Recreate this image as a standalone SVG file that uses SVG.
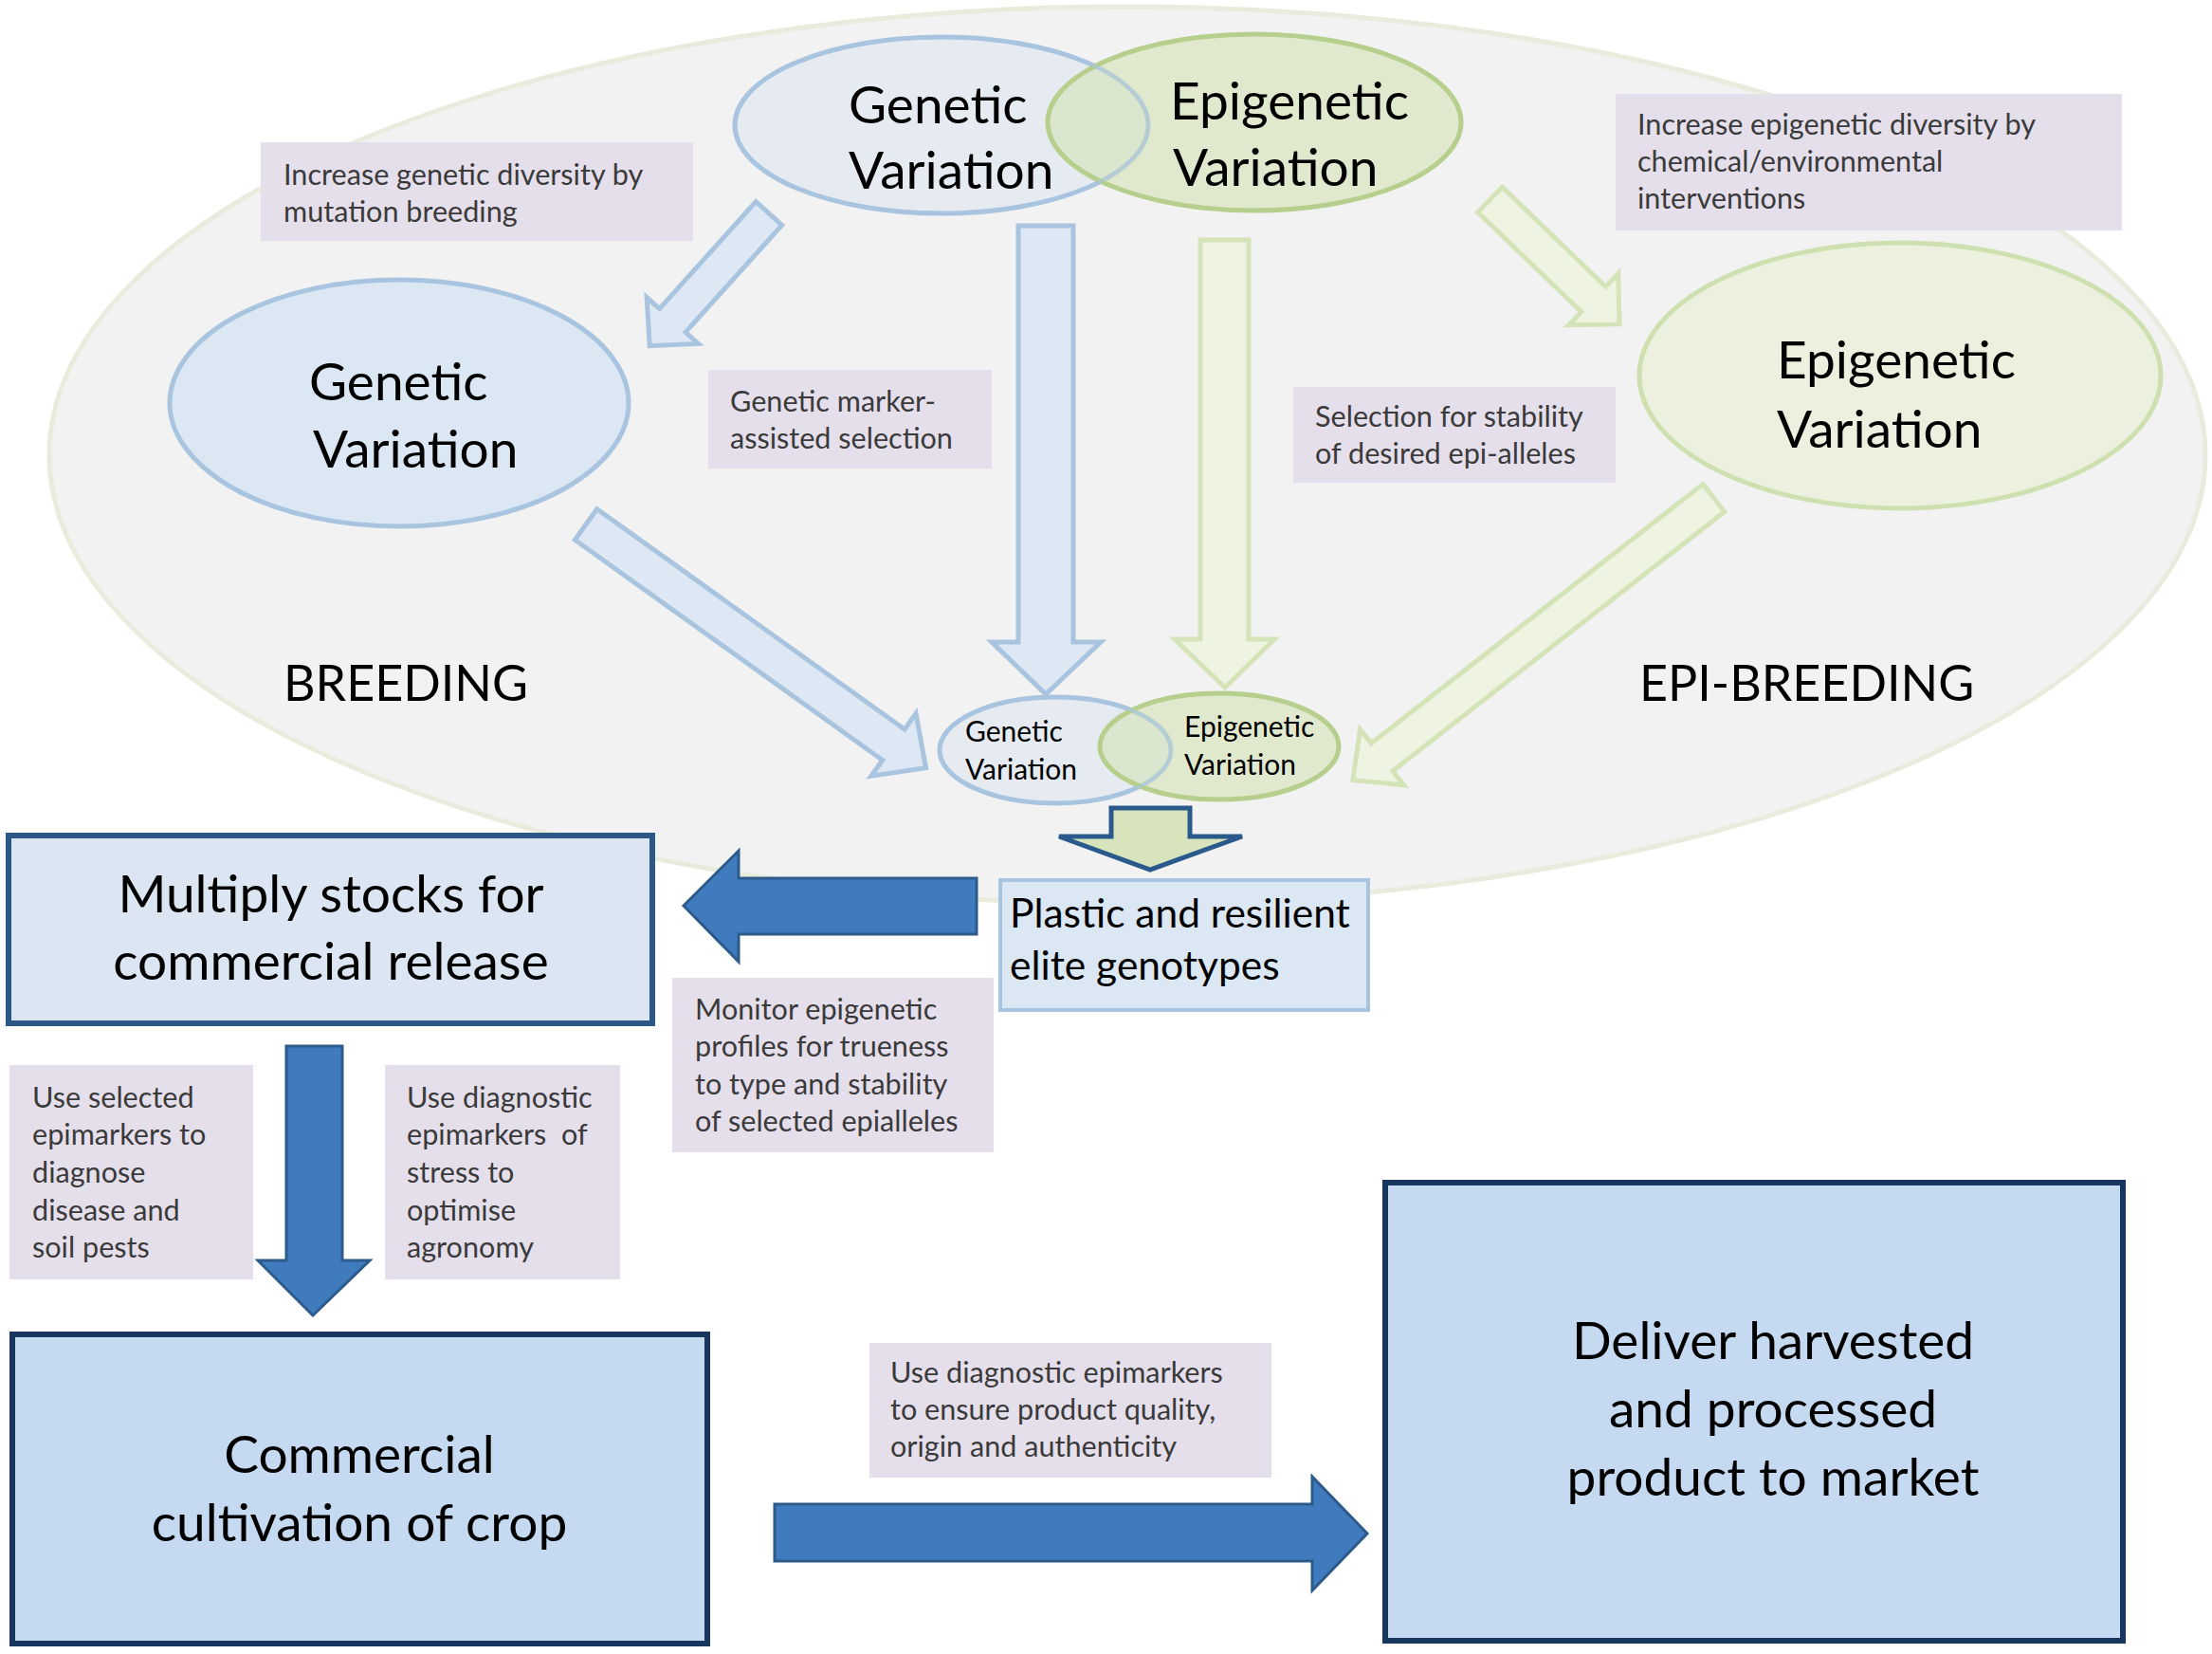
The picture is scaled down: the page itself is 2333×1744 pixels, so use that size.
<svg xmlns="http://www.w3.org/2000/svg" width="2333" height="1744" viewBox="0 0 2333 1744">
<style>
.t{font-family:Lato,"Open Sans","Liberation Sans",sans-serif;fill:#000}
.big{font-size:55px}
.mid{font-size:30px}
.lab{font-family:Lato,"Open Sans","Liberation Sans",sans-serif;font-size:30.6px;fill:#3a3a3a}
.box{font-size:55px}
.pur{fill:#e5dfec}
.lblue{fill:#dde8f4;stroke:#a8c4df;stroke-width:5;stroke-linejoin:miter}
.lgreen{fill:#eef3e2;stroke:#d4e4b8;stroke-width:5;stroke-linejoin:miter}
.dark{fill:#3f7bbd;stroke:#2c5a8b;stroke-width:3}
</style>
<rect width="2333" height="1744" fill="#ffffff"/>
<g id="background">
<ellipse cx="1189" cy="480" rx="1137" ry="473" fill="#f2f2f2" stroke="#e9ecdd" stroke-width="5"/>
</g>
<g id="labels">
<g id="lab-mutation"><rect class="pur" x="275" y="150" width="456" height="104"/>
<text class="lab" x="299" y="195">Increase genetic diversity by</text><text class="lab" x="299" y="234">mutation breeding</text></g>
<g id="lab-marker"><rect class="pur" x="747" y="390" width="299" height="104"/>
<text class="lab" x="770" y="434">Genetic marker-</text><text class="lab" x="770" y="473">assisted selection</text></g>
<g id="lab-stability"><rect class="pur" x="1364" y="408" width="340" height="101"/>
<text class="lab" x="1387" y="450">Selection for stability</text><text class="lab" x="1387" y="489">of desired epi-alleles</text></g>
<g id="lab-epidiv"><rect class="pur" x="1704" y="99" width="534" height="144"/>
<text class="lab" x="1727" y="142">Increase epigenetic diversity by</text><text class="lab" x="1727" y="181">chemical/environmental</text><text class="lab" x="1727" y="220">interventions</text></g>
<g id="lab-monitor"><rect class="pur" x="709" y="1031" width="339" height="184"/>
<text class="lab" x="733" y="1075">Monitor epigenetic</text><text class="lab" x="733" y="1114">profiles for trueness</text><text class="lab" x="733" y="1154">to type and stability</text><text class="lab" x="733" y="1193">of selected epialleles</text></g>
<g id="lab-disease"><rect class="pur" x="10" y="1123" width="257" height="226"/>
<text class="lab" x="34" y="1168">Use selected</text><text class="lab" x="34" y="1207">epimarkers to</text><text class="lab" x="34" y="1247">diagnose</text><text class="lab" x="34" y="1287">disease and</text><text class="lab" x="34" y="1326">soil pests</text></g>
<g id="lab-stress"><rect class="pur" x="406" y="1123" width="248" height="226"/>
<text class="lab" x="429" y="1168">Use diagnostic</text><text class="lab" x="429" y="1207" xml:space="preserve">epimarkers  of</text><text class="lab" x="429" y="1247">stress to</text><text class="lab" x="429" y="1287">optimise</text><text class="lab" x="429" y="1326">agronomy</text></g>
<g id="lab-quality"><rect class="pur" x="917" y="1416" width="424" height="142"/>
<text class="lab" x="939" y="1458">Use diagnostic epimarkers</text><text class="lab" x="939" y="1497">to ensure product quality,</text><text class="lab" x="939" y="1536">origin and authenticity</text></g>
</g>
<g id="connectors">
<path class="lblue" d="M0,-18.5 L152,-18.5 L152,-36.5 L188,0 L152,36.5 L152,18.5 L0,18.5 Z" transform="translate(811,225) rotate(132)"/>
<path class="lblue" d="M0,-20 L399,-20 L399,-40.5 L441,0 L399,40.5 L399,20 L0,20 Z" transform="translate(618,553) rotate(35.6)"/>
<path class="lgreen" d="M0,-18.5 L151.5,-18.5 L151.5,-37.5 L189.5,0 L151.5,37.5 L151.5,18.5 L0,18.5 Z" transform="translate(1571.5,210.5) rotate(43.9)"/>
<path class="lgreen" d="M0,-18.5 L444,-18.5 L444,-37.5 L483,0 L444,37.5 L444,18.5 L0,18.5 Z" transform="translate(1807.5,525) rotate(142)"/>
<polygon class="lblue" points="1074,238 1132,238 1132,677 1161,677 1103,732 1046,677 1074,677"/>
<polygon class="lgreen" points="1266,253 1317,253 1317,674 1344,674 1292,725 1239,674 1266,674"/>
<polygon points="1172,852 1255,852 1255,882 1310,882 1213,917 1117,882 1172,882" fill="#d8e4bc" stroke="#2a5a8c" stroke-width="5"/>
<polygon class="dark" points="1030,926 779,926 779,897 721,955 779,1014 779,985 1030,985"/>
<polygon class="dark" points="302,1103 361,1103 361,1329 390,1329 330,1387 272,1329 302,1329"/>
<polygon class="dark" points="817,1586 1384,1586 1384,1557 1442,1617 1384,1677 1384,1646 817,1646"/>
</g>
<g id="node-top-venn">
<ellipse cx="993" cy="132" rx="218" ry="93" fill="#e6ebf2" stroke="#a8c4df" stroke-width="5"/>
<ellipse cx="1323" cy="129" rx="218" ry="93" fill="#d3e2b5" fill-opacity="0.6" stroke="#b6cf8c" stroke-width="5"/>
<ellipse cx="993" cy="132" rx="218" ry="93" fill="none" stroke="#a8c4df" stroke-width="4" stroke-opacity="0.6"/>
<text class="t big" x="895" y="130">Genetic</text><text class="t big" x="895" y="199">Variation</text>
<text class="t big" x="1234" y="126">Epigenetic</text><text class="t big" x="1237" y="196">Variation</text>
</g>
<g id="node-genetic">
<ellipse cx="421" cy="425" rx="242" ry="130" fill="#dbe7f3" stroke="#a8c4df" stroke-width="5"/>
<text class="t big" x="326" y="422">Genetic</text><text class="t big" x="330" y="493">Variation</text>
</g>
<g id="node-epigenetic">
<ellipse cx="2004" cy="396" rx="275" ry="140" fill="#ebf1de" stroke="#cfe0b0" stroke-width="5"/>
<text class="t big" x="1874" y="399">Epigenetic</text><text class="t big" x="1874" y="472">Variation</text>
</g>
<g id="label-breeding"><text class="t" font-size="52" x="299" y="739">BREEDING</text></g>
<g id="label-epibreeding"><text class="t" font-size="52" x="1729" y="739">EPI-BREEDING</text></g>
<g id="node-mid-venn">
<ellipse cx="1113" cy="791" rx="122" ry="56" fill="#e6ebf2" stroke="#a8c4df" stroke-width="5"/>
<ellipse cx="1286" cy="787" rx="126" ry="56" fill="#d3e2b5" fill-opacity="0.6" stroke="#b6cf8c" stroke-width="5"/>
<ellipse cx="1113" cy="791" rx="122" ry="56" fill="none" stroke="#a8c4df" stroke-width="4" stroke-opacity="0.6"/>
<text class="t mid" x="1018" y="782">Genetic</text><text class="t mid" x="1018" y="822">Variation</text>
<text class="t mid" x="1249" y="777">Epigenetic</text><text class="t mid" x="1249" y="817">Variation</text>
</g>
<g id="node-plastic">
<rect x="1055" y="928" width="388" height="137" fill="#dbe7f3" stroke="#a8c4df" stroke-width="4"/>
<text class="t" font-size="42.5" x="1065" y="978">Plastic and resilient</text><text class="t" font-size="42.5" x="1065" y="1033">elite genotypes</text>
</g>
<g id="node-multiply">
<rect x="9" y="881" width="679" height="198" fill="#dce6f2" stroke="#2c5888" stroke-width="6"/>
<text class="t box" x="349" y="962" text-anchor="middle">Multiply stocks for</text><text class="t box" x="349" y="1033" text-anchor="middle">commercial release</text>
</g>
<g id="node-commercial">
<rect x="13" y="1407" width="733" height="326" fill="#c5d9f1" stroke="#16365d" stroke-width="6"/>
<text class="t box" x="379" y="1553" text-anchor="middle">Commercial</text><text class="t box" x="379" y="1625" text-anchor="middle">cultivation of crop</text>
</g>
<g id="node-deliver">
<rect x="1461" y="1247" width="778" height="483" fill="#c5d9f1" stroke="#16365d" stroke-width="6"/>
<text class="t box" x="1870" y="1433" text-anchor="middle">Deliver harvested</text><text class="t box" x="1870" y="1505" text-anchor="middle">and processed</text><text class="t box" x="1870" y="1577" text-anchor="middle">product to market</text>
</g>
</svg>
